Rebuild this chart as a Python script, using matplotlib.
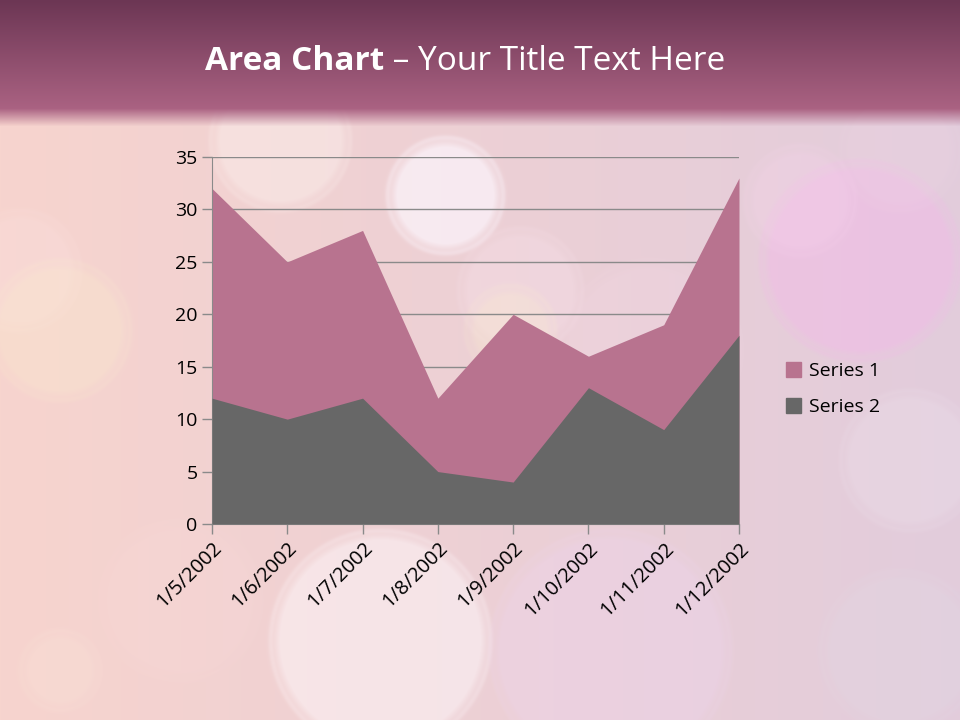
import numpy as np
import matplotlib
matplotlib.use('Agg')
import matplotlib.pyplot as plt
from matplotlib.patches import Patch

plt.rcParams['font.family'] = ['Open Sans', 'DejaVu Sans']

dates = ['1/5/2002', '1/6/2002', '1/7/2002', '1/8/2002',
         '1/9/2002', '1/10/2002', '1/11/2002', '1/12/2002']
series1 = [32, 25, 28, 12, 20, 16, 19, 33]
series2 = [12, 10, 12, 5, 4, 13, 9, 18]

W, H = 960, 720

# background: soft pink bokeh
yy, xx = np.mgrid[0:H, 0:W]
t = xx / W
bg = np.zeros((H, W, 3))
left = np.array([247, 212, 206]) / 255
right = np.array([226, 204, 220]) / 255
for c in range(3):
    bg[..., c] = left[c] * (1 - t) + right[c] * t

# (x, y, r, rgb, alpha)
circles = [
    (445, 195, 58, (252, 245, 252), 0.7),
    (520, 290, 62, (250, 228, 238), 0.3),
    (510, 330, 45, (250, 238, 205), 0.3),
    (860, 260, 100, (242, 185, 232), 0.5),
    (20, 270, 60, (252, 228, 228), 0.25),
    (60, 330, 70, (250, 238, 205), 0.3),
    (380, 640, 110, (253, 245, 248), 0.55),
    (610, 650, 120, (238, 212, 240), 0.35),
    (910, 460, 70, (238, 228, 238), 0.3),
    (900, 650, 80, (225, 218, 228), 0.3),
    (280, 140, 70, (252, 242, 238), 0.45),
    (180, 600, 80, (250, 218, 218), 0.2),
    (60, 670, 40, (250, 232, 218), 0.25),
    (800, 200, 55, (250, 212, 240), 0.25),
    (650, 350, 90, (246, 218, 232), 0.2),
    (900, 150, 60, (240, 215, 230), 0.2),
]
for cx, cy, r, col, a in circles:
    d = np.sqrt((xx - cx) ** 2 + (yy - cy) ** 2)
    m = np.clip((r - d) / 10.0, 0, 1) * a
    rim = np.exp(-((d - r) / 2.5) ** 2) * a * 0.5
    m = np.clip(m + rim, 0, 1)
    for c in range(3):
        bg[..., c] = bg[..., c] * (1 - m) + (col[c] / 255) * m

# title bar gradient
top = np.array([108, 54, 84]) / 255
bot = np.array([170, 98, 130]) / 255
bar_end = 108
for y in range(H):
    if y < bar_end:
        f = y / bar_end
        bg[y, :, :] = top * (1 - f) + bot * f
    elif y < bar_end + 18:
        f = (y - bar_end) / 18
        bg[y, :, :] = bot * (1 - f) + bg[y, :, :] * f

fig = plt.figure(figsize=(9.6, 7.2), dpi=100)
bax = fig.add_axes([0, 0, 1, 1])
bax.imshow(bg, aspect='auto', extent=[0, W, H, 0], interpolation='none')
bax.axis('off')

fig.text(384 / W, 1 - 62 / H, ' \u2013 Your Title Text Here', fontsize=24,
         color='white', ha='left', va='center')
fig.text(384 / W, 1 - 62 / H, 'Area Chart', fontsize=24, fontweight='bold',
         color='white', ha='right', va='center')

ax = fig.add_axes([212 / W, 1 - 524 / H, 527 / W, 367 / H])
ax.patch.set_alpha(0)
x = np.arange(len(dates))
ax.fill_between(x, 0, series1, color='#B8738F', linewidth=0, zorder=2)
ax.fill_between(x, 0, series2, color='#676767', linewidth=0, zorder=3)

ax.set_xlim(0, len(dates) - 1)
ax.set_ylim(0, 35)
ax.set_yticks(range(0, 36, 5))
ax.set_xticks(x)
ax.set_xticklabels(dates, rotation=45, ha='right', rotation_mode='anchor')
ax.yaxis.grid(True, color='#8a8a8a', linewidth=1, zorder=1)
ax.set_axisbelow(True)
for s in ['top', 'right']:
    ax.spines[s].set_visible(False)
ax.spines['left'].set_color('#8a8a8a')
ax.spines['bottom'].set_color('#8a8a8a')
ax.tick_params(axis='both', colors='#8a8a8a', labelcolor='black',
               labelsize=14, length=7, width=1)
ax.tick_params(axis='x', labelsize=14.5)

handles = [Patch(color='#B8738F', label='Series 1'),
           Patch(color='#676767', label='Series 2')]
fig.legend(handles=handles, loc='center left', bbox_to_anchor=(768 / W, 1 - 389 / H),
           frameon=False, fontsize=14, handlelength=0.8, handleheight=0.8,
           handletextpad=0.4, labelspacing=0.9)

plt.savefig('out.png', dpi=100)
